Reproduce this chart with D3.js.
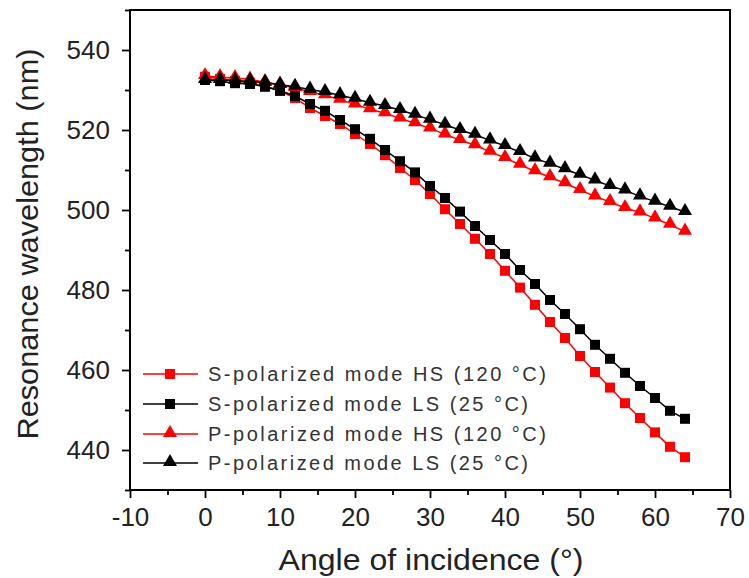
<!DOCTYPE html>
<html><head><meta charset="utf-8">
<script src="https://cdn.jsdelivr.net/npm/d3@7"></script>
<style>body{margin:0;background:#fff}svg{display:block}</style>
</head><body><svg id="c" width="749" height="578"></svg>
<script>
const angles = [0,2,4,6,8,10,12,14,16,18,20,22,24,26,28,30,32,34,36,38,40,42,44,46,48,50,52,54,56,58,60,62,64];
const sHS = [533.3,532.8,532.3,531.8,531,529.8,528,525.5,523.5,521.5,519,516.5,513.7,510.5,507.5,504,500.2,496.5,492.8,489,484.8,480.6,476.3,472,468,463.5,459.5,455.6,451.7,448,444.4,440.8,438.2];
const sLS = [532.5,532.2,531.7,531.5,530.8,529.8,528.5,526.5,524.8,522.5,520.2,517.8,515,512.2,509.4,506,503,499.6,496,492.5,489,485,481.5,477.5,474,470.2,466.3,462.8,459.3,456,453,449.8,447.8];
const pHS = [533.5,533.2,533,532.6,532,531.3,530.5,529.5,528.7,527.6,526.4,525.2,524.2,522.9,521.7,520.4,518.9,517.5,516.2,514.6,513,511.3,509.7,508.2,506.7,505,503.4,502,500.5,499.4,497.9,496.3,494.6];
const pLS = [532.5,532.5,532.3,532.2,531.8,531.3,530.8,530.1,529.5,528.7,527.8,526.8,526,525,523.8,522.6,521.3,520,518.8,517.4,516,514.5,512.9,511.6,510.2,508.8,507.4,506,504.9,503.4,502.1,500.8,499.5];
const seriesNames = ["S-polarized mode HS (120 °C)","S-polarized mode LS (25 °C)","P-polarized mode HS (120 °C)","P-polarized mode LS (25 °C)"];
const xTicks = [-10,0,10,20,30,40,50,60,70];
const yTicks = [440,460,480,500,520,540];
const xLabel = "Angle of incidence (°)";
const yLabel = "Resonance wavelength (nm)";

const series = [
  {name: seriesNames[0], values: sHS, color: "#ff0000", shape: "square"},
  {name: seriesNames[1], values: sLS, color: "#000000", shape: "square"},
  {name: seriesNames[2], values: pHS, color: "#ff0000", shape: "triangle"},
  {name: seriesNames[3], values: pLS, color: "#000000", shape: "triangle"}
];

const L = 130, R = 730, T = 10, B = 490;
const x = d3.scaleLinear().domain([-10,70]).range([L,R]);
const y = d3.scaleLinear().domain([430,550]).range([B,T]);
const svg = d3.select("#c");
const font = "'Liberation Sans', Arial, sans-serif";

const sym = {
  square: d3.symbol().type(d3.symbolSquare).size(100),
  triangle: d3.symbol().type(d3.symbolTriangle).size(85)
};

// series
const line = d3.line().x((d,i)=>x(angles[i])).y(d=>y(d));
series.forEach(s => {
  const g = svg.append("g");
  g.append("path").attr("d", line(s.values)).attr("fill","none")
    .attr("stroke", s.color).attr("stroke-width", 1.5);
  g.selectAll("path.m").data(s.values).join("path").attr("class","m")
    .attr("d", sym[s.shape])
    .attr("transform", (d,i)=>`translate(${x(angles[i])},${y(d) + (s.shape==="triangle"? -1:0)})`)
    .attr("fill", s.color);
});

// axes
const fmt = d => String(d);
const xAxis = d3.axisBottom(x).tickValues(xTicks).tickSize(8).tickPadding(10).tickFormat(fmt);
const xMinor = d3.axisBottom(x).tickValues(d3.range(-5,70,10)).tickSize(5).tickFormat("");
const yAxis = d3.axisLeft(y).tickValues(yTicks).tickSize(8).tickPadding(12).tickFormat(fmt);
const yMinor = d3.axisLeft(y).tickValues(d3.range(430,551,10).filter(v=>v%20!==0)).tickSize(5).tickFormat("");

function style(g){
  g.selectAll("path.domain").remove();
  g.selectAll("line").attr("stroke","#000").attr("stroke-width",1.8);
  g.selectAll("text").attr("font-family",font).attr("font-size",26).attr("fill","#222");
}
svg.append("g").attr("transform",`translate(0,${B})`).call(xAxis).call(style);
svg.append("g").attr("transform",`translate(0,${B})`).call(xMinor).call(style);
svg.append("g").attr("transform",`translate(${L},0)`).call(yAxis).call(style);
svg.append("g").attr("transform",`translate(${L},0)`).call(yMinor).call(style);

// frame
svg.append("rect").attr("x",L).attr("y",T).attr("width",R-L).attr("height",B-T)
  .attr("fill","none").attr("stroke","#000").attr("stroke-width",2);

// axis titles
svg.append("text").attr("x",431).attr("y",570).attr("text-anchor","middle")
  .attr("font-family",font).attr("font-size",29).attr("fill","#222")
  .attr("textLength",305).attr("lengthAdjust","spacingAndGlyphs").text(xLabel);
svg.append("text").attr("transform","translate(38,244) rotate(-90)").attr("text-anchor","middle")
  .attr("font-family",font).attr("font-size",29).attr("fill","#222")
  .attr("textLength",391).attr("lengthAdjust","spacingAndGlyphs").text(yLabel);

// legend
const legY = [374,404,434,463];
const legW = [338,320,338,320];
series.forEach((s,i) => {
  const g = svg.append("g").attr("transform",`translate(0,${legY[i]})`);
  g.append("line").attr("x1",143).attr("x2",198).attr("y1",0).attr("y2",0)
    .attr("stroke",s.color).attr("stroke-width",1.5);
  g.append("path").attr("d", sym[s.shape]).attr("transform",`translate(170,${s.shape==="triangle"?-1:0})`).attr("fill",s.color);
  g.append("text").attr("x",208).attr("y",7).attr("font-family",font).attr("font-size",20)
    .attr("fill","#333").attr("textLength",legW[i]).attr("lengthAdjust","spacing").text(s.name);
});
</script></body></html>
